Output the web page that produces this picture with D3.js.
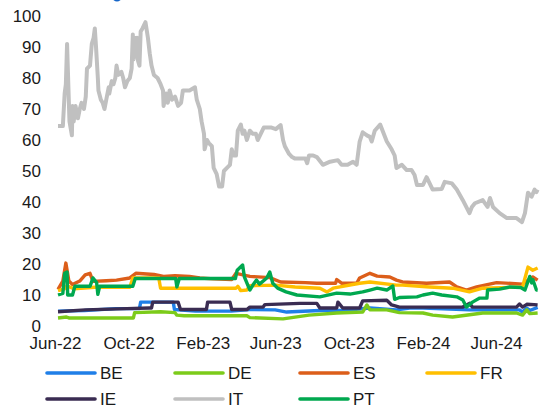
<!DOCTYPE html>
<html><head><meta charset="utf-8">
<script src="https://cdn.jsdelivr.net/npm/d3@7"></script>
<style>body{margin:0;background:#fff}svg{display:block}</style>
</head><body>
<script>
const tickDates = ["2022-06-01","2022-10-01","2023-02-01","2023-06-01","2023-10-01","2024-02-01","2024-06-01"];
const yTicks = [0,10,20,30,40,50,60,70,80,90,100];
const seriesNames = ["BE","DE","ES","FR","IE","IT","PT"];
const seriesColors = ["#1F7FE8","#7CCB1A","#DC5E1A","#FFBF00","#3A2C52","#C0C0C0","#00A84F"];

const BE = [["2022-06-06",4.8],["2022-07-20",5],["2022-09-10",5.6],["2022-10-19",5.6],["2022-10-21",7.7],["2022-12-14",7.7],["2022-12-16",5.3],["2023-01-20",4.8],["2023-03-20",4.8],["2023-04-20",5.3],["2023-06-01",5.2],["2023-06-20",4.5],["2023-08-14",5.0],["2023-09-20",5.0],["2023-11-05",5.8],["2023-12-19",5.2],["2024-01-10",5.8],["2024-02-01",5.8],["2024-04-18",5.2],["2024-07-10",5.2],["2024-07-15",4.5],["2024-07-22",5.8],["2024-07-27",5.0],["2024-08-09",6.0]];
const DE = [["2022-06-06",2.6],["2022-06-20",2.9],["2022-06-24",2.6],["2022-10-09",2.6],["2022-10-11",4.3],["2022-11-23",4.6],["2022-12-17",4.3],["2022-12-20",3.5],["2023-01-01",3.3],["2023-04-15",3.3],["2023-04-20",2.7],["2023-06-14",2.3],["2023-07-27",3.5],["2023-09-11",4.2],["2023-10-24",4.5],["2023-10-31",6.8],["2023-11-05",5.2],["2023-12-03",5.2],["2023-12-24",4.3],["2024-02-01",4.2],["2024-02-17",3.5],["2024-03-21",2.9],["2024-05-10",4.2],["2024-07-05",4.2],["2024-07-15",3.5],["2024-07-22",5.2],["2024-07-27",4.0],["2024-08-09",4.2]];
const ES = [["2022-06-06",11.8],["2022-06-14",14.5],["2022-06-19",20.3],["2022-06-24",14.5],["2022-06-30",13.4],["2022-07-12",14.5],["2022-07-21",16.5],["2022-07-29",17],["2022-08-03",14.4],["2022-08-25",14.6],["2022-09-11",14.8],["2022-10-03",15.5],["2022-10-13",17],["2022-11-12",16.6],["2022-11-28",16],["2022-12-17",16.2],["2023-01-10",16],["2023-01-27",15.5],["2023-02-19",15.2],["2023-03-21",15],["2023-03-28",17],["2023-04-20",16],["2023-05-23",15.6],["2023-06-10",14.2],["2023-07-21",14],["2023-08-09",13.8],["2023-09-09",13.8],["2023-09-11",15],["2023-09-19",13.8],["2023-10-14",13.8],["2023-10-19",15.5],["2023-11-05",17],["2023-11-17",16.1],["2023-12-08",15.8],["2023-12-19",14.8],["2023-12-29",14.2],["2024-02-07",13.8],["2024-03-16",14.2],["2024-03-28",12.6],["2024-04-13",11.6],["2024-04-30",12.6],["2024-06-02",14],["2024-07-15",13.5],["2024-08-01",15.8],["2024-08-09",14.8]];
const FR = [["2022-06-06",11.4],["2022-06-17",12],["2022-06-21",13],["2022-07-02",12],["2022-08-06",12.5],["2022-10-03",12.5],["2022-10-08",15.5],["2022-11-20",15.5],["2022-11-23",12.2],["2023-03-28",12.2],["2023-03-31",12.8],["2023-04-05",11.4],["2023-04-15",11.6],["2023-04-20",13],["2023-06-02",13.2],["2023-07-04",12.6],["2023-08-14",12.2],["2023-08-26",11],["2023-09-05",12.2],["2023-10-19",13.8],["2023-11-05",14.2],["2023-12-19",13.2],["2023-12-29",13.2],["2024-02-12",12.6],["2024-03-21",12.2],["2024-04-18",11],["2024-05-10",12.2],["2024-07-15",12.6],["2024-07-24",19],["2024-08-01",18],["2024-08-09",18.7]];
const IE = [["2022-06-06",4.6],["2022-07-21",5.2],["2022-09-28",5.6],["2022-11-05",5.8],["2022-11-08",5.8],["2022-11-10",7.7],["2022-12-22",7.7],["2022-12-26",5.3],["2023-02-07",5.3],["2023-02-09",7.7],["2023-03-18",7.7],["2023-03-21",5.3],["2023-04-15",5.3],["2023-04-20",6.1],["2023-05-12",6.1],["2023-05-15",6.9],["2023-07-12",7.3],["2023-08-09",7.3],["2023-08-14",5.8],["2023-09-11",5.8],["2023-09-13",7.7],["2023-09-21",5.8],["2023-10-19",5.8],["2023-10-24",8.1],["2023-12-03",8.3],["2023-12-11",6.8],["2023-12-24",6.1],["2024-04-07",6.1],["2024-04-18",7.3],["2024-04-23",6.1],["2024-07-05",6.1],["2024-07-10",7.1],["2024-07-15",6.1],["2024-07-22",7],["2024-08-09",6.8]];
const IT = [["2022-06-06",64.5],["2022-06-14",64.5],["2022-06-17",75],["2022-06-19",78],["2022-06-21",91],["2022-06-24",72],["2022-06-25",66],["2022-06-29",61.5],["2022-06-30",71],["2022-07-02",66],["2022-07-05",71],["2022-07-09",67],["2022-07-12",70],["2022-07-15",72],["2022-07-19",70],["2022-07-22",74],["2022-07-24",83],["2022-07-29",84],["2022-08-01",91],["2022-08-04",93],["2022-08-06",96],["2022-08-08",90],["2022-08-11",80],["2022-08-12",76],["2022-08-16",73],["2022-08-19",72],["2022-08-22",70],["2022-08-25",73],["2022-08-29",77],["2022-08-30",75],["2022-09-03",79],["2022-09-06",78],["2022-09-09",80],["2022-09-11",84],["2022-09-14",81],["2022-09-19",82],["2022-09-22",80],["2022-09-25",77],["2022-09-29",79],["2022-10-03",80],["2022-10-06",83],["2022-10-08",94],["2022-10-09",86],["2022-10-11",93],["2022-10-13",87],["2022-10-15",93],["2022-10-16",86],["2022-10-19",84],["2022-10-21",95],["2022-10-24",96],["2022-10-29",98],["2022-11-02",93],["2022-11-05",88],["2022-11-08",84],["2022-11-12",81],["2022-11-18",80],["2022-11-23",78],["2022-11-27",76],["2022-11-28",71],["2022-12-02",75],["2022-12-05",72],["2022-12-08",76],["2022-12-12",73],["2022-12-17",74],["2022-12-22",71],["2022-12-27",72],["2022-12-30",76],["2023-01-10",76],["2023-01-19",77],["2023-01-22",73],["2023-01-27",70],["2023-01-30",66],["2023-02-03",62],["2023-02-04",57],["2023-02-08",60],["2023-02-11",59],["2023-02-16",58],["2023-02-19",51],["2023-02-24",49],["2023-02-28",45],["2023-03-05",45],["2023-03-08",50],["2023-03-13",51],["2023-03-18",52],["2023-03-21",57],["2023-03-24",55],["2023-03-28",55],["2023-03-31",63],["2023-04-05",65],["2023-04-08",62],["2023-04-11",63],["2023-04-15",60],["2023-04-20",63],["2023-04-25",62],["2023-04-30",62],["2023-05-03",60],["2023-05-08",62],["2023-05-13",64],["2023-05-20",64],["2023-05-26",64],["2023-06-02",63.5],["2023-06-10",64.8],["2023-06-14",60],["2023-06-17",58],["2023-06-24",55.5],["2023-06-29",54.5],["2023-07-04",54],["2023-07-21",54],["2023-07-24",52.5],["2023-07-27",55],["2023-08-03",55],["2023-08-09",54.5],["2023-08-19",52],["2023-08-31",53],["2023-09-13",53.5],["2023-09-19",52],["2023-09-29",52],["2023-10-08",53],["2023-10-14",52],["2023-10-19",59.5],["2023-10-24",62.5],["2023-10-31",61.5],["2023-11-05",61],["2023-11-08",59.5],["2023-11-13",63],["2023-11-22",65],["2023-11-27",62.5],["2023-12-03",59.5],["2023-12-11",57],["2023-12-16",55],["2023-12-19",51],["2023-12-28",52],["2024-01-05",50.3],["2024-01-13",50.3],["2024-01-18",48.7],["2024-01-22",45.5],["2024-02-01",45.5],["2024-02-07",48],["2024-02-12",46],["2024-02-17",44],["2024-03-03",44.2],["2024-03-08",46.5],["2024-03-20",46],["2024-03-28",44],["2024-04-07",40.6],["2024-04-18",36.4],["2024-04-22",38.4],["2024-04-27",39.6],["2024-05-10",40.6],["2024-05-18",38.4],["2024-05-22",41.3],["2024-05-27",38.4],["2024-06-07",36.4],["2024-06-19",34.8],["2024-07-05",34.8],["2024-07-14",33.5],["2024-07-19",36.4],["2024-07-24",43],["2024-07-30",41.7],["2024-08-04",44],["2024-08-07",43.2],["2024-08-09",44]];
const PT = [["2022-06-06",10],["2022-06-14",10.5],["2022-06-17",17],["2022-06-21",17.4],["2022-06-22",10],["2022-06-30",10],["2022-07-04",12.8],["2022-07-29",12.8],["2022-08-03",15.5],["2022-08-09",14],["2022-08-11",10.2],["2022-08-14",12.8],["2022-10-08",12.8],["2022-10-12",15.3],["2022-12-18",15.3],["2022-12-20",12.6],["2022-12-24",15.3],["2023-03-27",15.3],["2023-03-30",18],["2023-04-08",19.7],["2023-04-11",15.8],["2023-04-20",11.6],["2023-04-25",13.2],["2023-05-01",14.8],["2023-05-06",13.5],["2023-05-18",15.5],["2023-05-23",17.4],["2023-05-28",13.8],["2023-06-05",12.2],["2023-06-19",11],["2023-07-07",10],["2023-08-14",9.4],["2023-09-11",10.6],["2023-10-03",10.3],["2023-10-24",11],["2023-11-05",11.6],["2023-11-17",12.2],["2023-12-03",11.6],["2023-12-13",12.9],["2023-12-16",8.6],["2023-12-24",9.2],["2024-01-22",9.4],["2024-02-01",10],["2024-02-17",10.6],["2024-03-03",10],["2024-03-28",9.4],["2024-04-07",8.4],["2024-04-13",6.1],["2024-04-23",7.7],["2024-05-05",9],["2024-05-17",9],["2024-05-18",11.6],["2024-06-07",11.9],["2024-06-24",12.6],["2024-07-12",12.4],["2024-07-19",11.6],["2024-07-27",16],["2024-07-30",13.9],["2024-08-01",15],["2024-08-07",11.6],["2024-08-09",11.6]];

const seriesData = [BE, DE, ES, FR, IE, IT, PT];

const W = 548, H = 409;
const parse = d3.timeParse("%Y-%m-%d");
const svg = d3.select("body").append("svg").attr("width", W).attr("height", H);
const font = "'Liberation Sans', Arial, sans-serif";

// clipped element at the very top
svg.append("circle").attr("cx", 117).attr("cy", -3).attr("r", 4.6).attr("fill", "#1565C8");

const x = d3.scaleTime().domain([parse(tickDates[0]), parse(tickDates[tickDates.length-1])]).range([55, 496]);
const y = d3.scaleLinear().domain([0, 100]).range([326, 16]);

// Y axis
const yAxis = svg.append("g").attr("transform", "translate(50,0)")
  .call(d3.axisLeft(y).tickValues(yTicks).tickSize(0).tickPadding(9));
yAxis.select(".domain").remove();
yAxis.selectAll("text").attr("font-family", font).attr("font-size", 17).attr("fill", "#1a1a1a");

// X axis
const xAxis = svg.append("g").attr("transform", "translate(0,331)")
  .call(d3.axisBottom(x).tickValues(tickDates.map(parse)).tickFormat(d3.timeFormat("%b-%y")).tickSize(0).tickPadding(6));
xAxis.select(".domain").remove();
xAxis.selectAll("text").attr("font-family", font).attr("font-size", 17).attr("fill", "#1a1a1a");

const line = d3.line().x(d => x(parse(d[0]))).y(d => y(d[1])).curve(d3.curveLinear);

seriesData.forEach((data, i) => {
  svg.append("path").datum(data).attr("d", line)
    .attr("fill", "none").attr("stroke", seriesColors[i])
    .attr("stroke-width", i === 5 ? 4 : 3.4)
    .attr("stroke-linejoin", "round").attr("stroke-linecap", "butt");
});

// Legend
const legCols = [47, 175, 300, 427];
const legRows = [373, 399];
seriesNames.forEach((name, i) => {
  const cx = legCols[i % 4], cy = legRows[Math.floor(i / 4)];
  svg.append("line").attr("x1", cx).attr("x2", cx + 48).attr("y1", cy).attr("y2", cy)
    .attr("stroke", seriesColors[i]).attr("stroke-width", 3.6).attr("stroke-linecap", "round");
  svg.append("text").attr("x", cx + 53).attr("y", cy).attr("dy", "0.36em")
    .attr("font-family", font).attr("font-size", 17).attr("fill", "#1a1a1a").text(name);
});
</script>
</body></html>
